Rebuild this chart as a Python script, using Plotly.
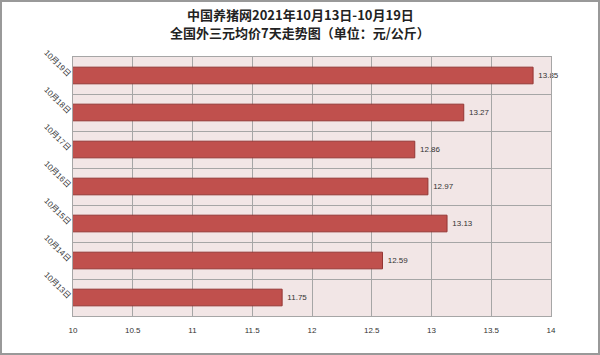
import plotly.graph_objects as go

dates = ["10月13日", "10月14日", "10月15日", "10月16日", "10月17日", "10月18日", "10月19日"]
prices = [11.75, 12.59, 13.13, 12.97, 12.86, 13.27, 13.85]
x_ticks = [10, 10.5, 11, 11.5, 12, 12.5, 13, 13.5, 14]
title_lines = ["中国养猪网2021年10月13日-10月19日", "全国外三元均价7天走势图（单位：元/公斤）"]

W, H = 600, 355
L, R, T, B = 73, 49, 57, 39
pw, ph = W - L - R, H - T - B

pos = list(range(len(dates)))
font = "Liberation Sans, Noto Sans CJK SC, sans-serif"

fig = go.Figure(go.Bar(
    x=prices, y=pos, orientation="h", base=0,
    width=0.45,
    marker=dict(color="#C0504D", line=dict(color="#943634", width=1)),
    text=["\u00a0" + f"{v:.2f}" for v in prices], textposition="outside",
    textfont=dict(size=8, color="#333333", family=font),
    cliponaxis=False,
))

fig.update_layout(
    width=W, height=H,
    margin=dict(l=L, r=R, t=T, b=B),
    paper_bgcolor="white", plot_bgcolor="#F2E6E6",
    showlegend=False,
    bargap=0.55,
)

for line, ypx in zip(title_lines, [15, 33]):
    fig.add_annotation(
        text=f"<b>{line}</b>", xref="paper", yref="paper",
        x=(W / 2 - L) / pw, y=1 + (T - ypx) / ph,
        xanchor="center", yanchor="middle", showarrow=False,
        font=dict(size=13, color="#222222", family="Noto Sans CJK SC, sans-serif"),
    )

fig.update_xaxes(
    range=[10, 14], tickvals=x_ticks, ticktext=[f"{v:g}" for v in x_ticks],
    showgrid=True, gridcolor="#A6A6A6", gridwidth=1,
    showline=True, linecolor="#A6A6A6", linewidth=1, mirror=True,
    ticks="", tickfont=dict(size=8, color="#333333", family=font),
    zeroline=False, ticklabelstandoff=6,
)
fig.update_yaxes(
    range=[-0.5, len(dates) - 0.5],
    tickvals=pos, ticktext=dates, tickangle=45,
    showgrid=False,
    minor=dict(tickvals=[i - 0.5 for i in range(len(dates) + 1)], showgrid=True,
               gridcolor="#A6A6A6", gridwidth=1, ticks=""),
    showline=True, linecolor="#A6A6A6", linewidth=1, mirror=True,
    ticks="", tickfont=dict(size=8, color="#333333", family=font),
    zeroline=False,
)

# outer border of the chart image
fig.add_shape(
    type="rect", xref="paper", yref="paper",
    x0=(-L + 1) / pw, x1=1 + (R - 1) / pw,
    y0=(-B + 1) / ph, y1=1 + (T - 1) / ph,
    line=dict(color="#999999", width=2), fillcolor="rgba(0,0,0,0)", layer="below",
)

fig.write_html("out.html")
